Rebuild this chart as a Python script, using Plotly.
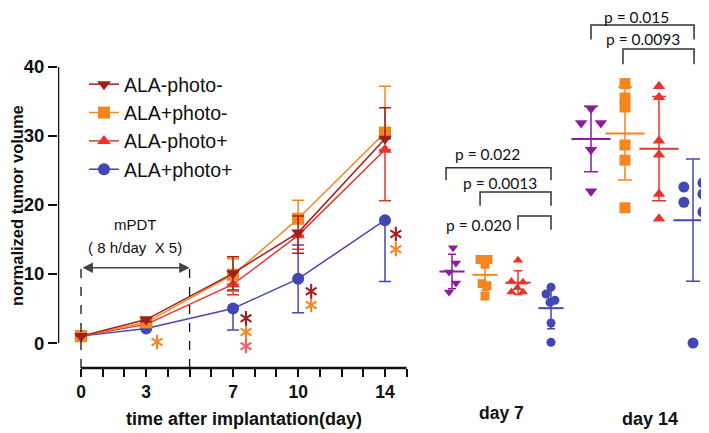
import numpy as np
import plotly.graph_objects as go

# ---------------- data ----------------
days = [0, 3, 7, 10, 14]
group_names = ["ALA-photo-", "ALA+photo-", "ALA-photo+", "ALA+photo+"]

# growth curves (mean normalized tumor volume)
ala_neg_photo_neg = [1.0, 3.4, 10.1, 16.0, 29.6]
ala_pos_photo_neg = [1.0, 3.0, 9.9, 18.0, 30.5]
ala_neg_photo_pos = [1.0, 2.7, 8.5, 15.6, 28.0]
ala_pos_photo_pos = [1.0, 2.1, 5.0, 9.3, 17.8]

# error bars (upper / lower) as drawn on the curves
err_up_neg_neg = [None, 0.3, 2.4, 2.4, 4.5]
err_dn_neg_neg = [None, 0.3, 2.4, 3.0, None]
err_up_pos_neg = [None, 0.3, 2.3, 2.7, 6.7]
err_dn_pos_neg = [None, 0.3, 2.4, None, None]
err_up_neg_pos = [None, None, None, None, None]
err_dn_neg_pos = [None, 0.2, 1.5, 2.0, 7.4]
err_up_pos_pos = [None, None, None, 4.9, None]
err_dn_pos_pos = [None, None, 3.1, 4.9, 8.9]

# individual tumours, day 7
d7_neg_neg = [13.8, 11.6, 10.3, 8.7, 7.4]
d7_pos_neg = [12.1, 12.1, 11.4, 8.6, 8.3, 6.8]
d7_neg_pos = [12.0, 8.9, 8.8, 7.4, 7.4, 8.0]
d7_pos_pos = [8.1, 7.1, 6.2, 5.9, 2.9, 0.1]
# beeswarm spread (fraction of group spacing)
d7_jit_neg_neg = [0.03, 0.12, -0.09, 0.12, -0.09]
d7_jit_pos_neg = [-0.15, 0.09, 0.0, -0.09, 0.06, 0.0]
d7_jit_neg_pos = [0.0, -0.2, 0.15, -0.2, 0.15, -0.02]
d7_jit_pos_pos = [0.0, -0.15, 0.12, -0.03, 0.0, 0.0]

# individual tumours, day 14
d14_neg_neg = [34.0, 31.9, 31.9, 28.0, 22.0]
d14_pos_neg = [37.6, 35.5, 34.2, 28.7, 26.5, 19.6]
d14_neg_pos = [37.2, 35.6, 29.3, 27.3, 21.6, 18.0]
d14_pos_pos = [22.6, 23.2, 21.6, 20.4, 19.0, 0.0]
d14_jit_neg_neg = [0.0, -0.29, 0.29, 0.0, 0.0]
d14_jit_pos_neg = [0.0, 0.0, 0.0, 0.0, 0.0, 0.0]
d14_jit_neg_pos = [0.0, 0.0, 0.0, 0.0, 0.0, 0.0]
d14_jit_pos_pos = [-0.27, 0.29, 0.29, -0.27, 0.29, 0.0]

# significance asterisks on the curve panel (day, level, colour key)
star_days = [3.5, 7.6, 7.6, 7.6, 10.6, 10.6, 14.5, 14.5]
star_levels = [0.15, 3.6, 1.6, -0.45, 7.5, 5.5, 15.8, 13.6]
star_keys = ["orange", "darkred", "orange", "salmon", "darkred", "orange", "darkred", "orange"]

# p-value brackets
p_panel = ["x2", "x2", "x2", "x3", "x3"]
p_left = [-0.18, 0.85, 2.0, 0.0, 0.94]
p_right = [3.0, 3.0, 3.0, 3.03, 3.03]
p_top = [25.4, 21.9, 18.4, 46.1, 42.6]
p_leg = [23.6, 19.9, 16.4, 44.0, 40.4]
p_text = ["p = 0.022", "p = 0.0013", "p = 0.020", "p = 0.015", "p = 0.0093"]
p_tx = [1.09, 1.45, 0.79, 1.35, 1.53]
p_ty = [27.4, 23.2, 17.1, 47.25, 44.0]

x_tick_vals = list(range(0, 16))
x_tick_labels = ["0", "", "", "3", "", "", "", "7", "", "", "10", "", "", "", "14", ""]
y_tick_vals = [0, 10, 20, 30, 40]

# ---------------- style ----------------
C = {
    "darkred": "#A21F1F",
    "orange": "#F5861F",
    "red": "#E8352B",
    "blue": "#4148B3",
    "purple": "#8B1E9B",
    "salmon": "#F0606A",
}
OFF = 8                      # page body margin offset
W, H = 709 - OFF, 433 - OFF
PT, PB = 0, 65
Y_RANGE = [-3.62, 48.55]
FONT_AX = "Liberation Sans"


def fx(px):
    """screen x pixel -> paper fraction"""
    return (px - OFF) / W


def fy(py):
    """screen y pixel -> paper fraction"""
    return 1 - (py - OFF - PT) / (H - PT - PB)


fig = go.Figure()

curves = [
    ("ALA+photo+", ala_pos_photo_pos, err_up_pos_pos, err_dn_pos_pos, C["blue"], "circle", 4),
    ("ALA-photo+", ala_neg_photo_pos, err_up_neg_pos, err_dn_neg_pos, C["red"], "triangle-up", 3),
    ("ALA+photo-", ala_pos_photo_neg, err_up_pos_neg, err_dn_pos_neg, C["orange"], "square", 2),
    ("ALA-photo-", ala_neg_photo_neg, err_up_neg_neg, err_dn_neg_neg, C["darkred"], "triangle-down", 1),
]
for name, ys, up, dn, col, sym, rank in curves:
    fig.add_trace(go.Scatter(
        x=days, y=ys, name=name, mode="lines+markers",
        line=dict(color=col, width=1.5),
        marker=dict(symbol=sym, size=12, color=col),
        error_y=dict(type="data", symmetric=False, array=up, arrayminus=dn,
                     color=col, thickness=1.5, width=6),
        legendrank=rank, legendgroup=name,
        xaxis="x", yaxis="y",
    ))

# asterisks: six-armed star built from two open Y markers
star_cols = [C[k] for k in star_keys]
for sym in ["y-up-open", "y-down-open"]:
    fig.add_trace(go.Scatter(
        x=star_days, y=star_levels, mode="markers",
        marker=dict(symbol=sym, size=9, color=star_cols,
                    line=dict(color=star_cols, width=2.1)),
        showlegend=False, hoverinfo="skip", xaxis="x", yaxis="y",
    ))

panel_sets = [
    ("x2", [d7_neg_neg, d7_pos_neg, d7_neg_pos, d7_pos_pos],
     [d7_jit_neg_neg, d7_jit_pos_neg, d7_jit_neg_pos, d7_jit_pos_pos], 9, 18, 4),
    ("x3", [d14_neg_neg, d14_pos_neg, d14_neg_pos, d14_pos_pos],
     [d14_jit_neg_neg, d14_jit_pos_neg, d14_jit_neg_pos, d14_jit_pos_pos], 11, 28, 7),
]
grp_cols = [C["purple"], C["orange"], C["red"], C["blue"]]
grp_syms = ["triangle-down", "square", "triangle-up", "circle"]
for xa, sets, jits, msize, mean_w, cap_w in panel_sets:
    for gi, (vals, jit) in enumerate(zip(sets, jits)):
        col = grp_cols[gi]
        fig.add_trace(go.Scatter(
            x=[gi + j for j in jit], y=vals, mode="markers",
            marker=dict(symbol=grp_syms[gi], size=msize, color=col),
            showlegend=False, xaxis=xa, yaxis="y", hoverinfo="y",
            cliponaxis=False,
        ))
        m = float(np.mean(vals))
        sd = float(np.std(vals, ddof=1))
        fig.add_trace(go.Scatter(
            x=[gi], y=[m], mode="markers",
            marker=dict(symbol="line-ew", size=mean_w, line=dict(color=col, width=2)),
            error_y=dict(type="data", array=[sd], color=col, thickness=1.5, width=cap_w),
            showlegend=False, xaxis=xa, yaxis="y", hoverinfo="y",
            cliponaxis=False,
        ))

fig.update_layout(
    width=W, height=H,
    margin=dict(l=0, r=0, t=PT, b=PB, autoexpand=False),
    paper_bgcolor="white", plot_bgcolor="white",
    font=dict(family=FONT_AX, color="#111"),
    showlegend=True,
    legend=dict(x=fx(84), y=fy(65), xanchor="left", yanchor="top",
                font=dict(family=FONT_AX, size=19.5, color="#111"),
                bgcolor="rgba(0,0,0,0)", traceorder="grouped", tracegroupgap=0),
    xaxis=dict(domain=[fx(58), fx(406.7)], range=[-1.06, 15], showline=False,
               showgrid=False, zeroline=False, tickmode="array",
               tickvals=x_tick_vals, ticktext=x_tick_labels,
               ticks="outside", ticklen=8, tickwidth=2, tickcolor="#111",
               tickfont=dict(family=FONT_AX, size=17.5, weight="bold"),
               anchor="y", automargin=False),
    yaxis=dict(domain=[0, 1], range=Y_RANGE, showline=False, showgrid=False,
               zeroline=False, tickmode="array", tickvals=y_tick_vals,
               ticks="outside", ticklen=9, tickwidth=2, tickcolor="#111",
               tickfont=dict(family=FONT_AX, size=18.5, weight="bold"),
               anchor="x", automargin=False),
    xaxis2=dict(domain=[fx(430), fx(572)], range=[-0.667, 3.636],
                visible=False, anchor="y", automargin=False),
    xaxis3=dict(domain=[fx(572), 1.0], range=[-0.559, 3.47],
                visible=False, anchor="y", automargin=False),
)

shapes = []
shapes.append(dict(type="line", xref="x", yref="y", x0=-1.06, x1=-1.06, y0=0, y1=40,
                   line=dict(color="#111", width=2.5)))
shapes.append(dict(type="line", xref="x", yref="paper", x0=0, x1=15, y0=0, y1=0,
                   line=dict(color="#111", width=2.5)))
for d in [0, 5]:
    shapes.append(dict(type="line", xref="x", yref="y", x0=d, x1=d, y0=Y_RANGE[0], y1=11.3,
                       line=dict(color="#111", width=1.3, dash="dash")))
for pa, xl, xr, yt, yl in zip(p_panel, p_left, p_right, p_top, p_leg):
    shapes.append(dict(type="path", xref=pa, yref="y",
                       path=f"M {xl},{yl} L {xl},{yt} L {xr},{yt} L {xr},{yl}",
                       line=dict(color="#333", width=1.5)))
fig.update_layout(shapes=shapes)

ann = []
ann.append(dict(x=5, y=10.9, ax=0, ay=10.9, xref="x", yref="y", axref="x", ayref="y",
                showarrow=True, arrowhead=2, arrowside="end+start", arrowsize=1.3,
                arrowwidth=1.6, arrowcolor="#444", text=""))
ann.append(dict(x=2.5, y=17.2, xref="x", yref="y", text="mPDT", showarrow=False,
                font=dict(family=FONT_AX, size=15, color="#111")))
ann.append(dict(x=2.5, y=13.9, xref="x", yref="y", text="( 8 h/day  X 5)", showarrow=False,
                font=dict(family=FONT_AX, size=15, color="#111")))
for pa, tx, ty, tt in zip(p_panel, p_tx, p_ty, p_text):
    ann.append(dict(x=tx, y=ty, xref=pa, yref="y", text=tt, showarrow=False,
                    xanchor="center", yanchor="middle",
                    font=dict(family="Lato", size=15.5, color="#111")))
ann.append(dict(x=fx(17), y=fy(206), xref="paper", yref="paper",
                text="normalized tumor volume", textangle=-90, showarrow=False,
                xanchor="center", yanchor="middle",
                font=dict(family=FONT_AX, size=16.5, weight="bold", color="#111")))
ann.append(dict(x=fx(244), y=fy(419), xref="paper", yref="paper",
                text="time after implantation(day)", showarrow=False,
                xanchor="center", yanchor="middle",
                font=dict(family=FONT_AX, size=18, weight="bold", color="#111")))
ann.append(dict(x=fx(501), y=fy(413), xref="paper", yref="paper",
                text="day 7", showarrow=False, xanchor="center", yanchor="middle",
                font=dict(family=FONT_AX, size=17.5, weight="bold", color="#111")))
ann.append(dict(x=fx(650), y=fy(419), xref="paper", yref="paper",
                text="day 14", showarrow=False, xanchor="center", yanchor="middle",
                font=dict(family=FONT_AX, size=18, weight="bold", color="#111")))
fig.update_layout(annotations=ann)

fig.write_html("out.html")
